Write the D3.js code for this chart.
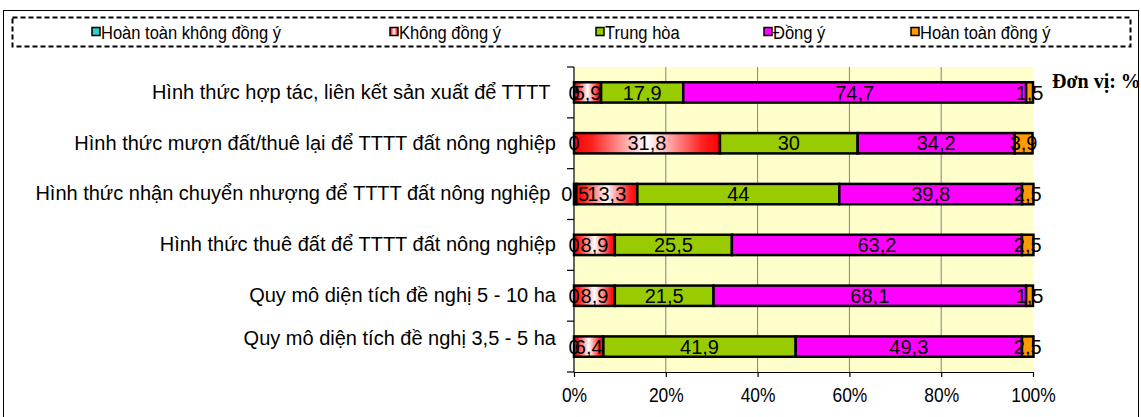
<!DOCTYPE html>
<html>
<head>
<meta charset="utf-8">
<script src="https://cdn.jsdelivr.net/npm/d3@7"></script>
<style>
  html, body { margin: 0; padding: 0; background: #ffffff; }
  svg { display: block; }
  text { font-family: Arial, "Liberation Sans", sans-serif; }
</style>
</head>
<body>
<svg id="chart" width="1141" height="417"></svg>
<script>
// ---------------- data ----------------
const categories = [
  "Hình thức hợp tác, liên kết sản xuất để TTTT\u00A0",
  "Hình thức mượn đất/thuê lại để TTTT đất nông nghiệp",
  "Hình thức nhận chuyển nhượng để TTTT đất nông nghiệp\u00A0",
  "Hình thức thuê đất để TTTT đất nông nghiệp",
  "Quy mô diện tích đề nghị 5 - 10 ha",
  "Quy mô diện tích đề nghị 3,5 - 5 ha"
];
const seriesNames = ["Hoàn toàn không đồng ý", "Không đồng ý", "Trung hòa", "Đồng ý", "Hoàn toàn đồng ý"];
const hoanToanKhongDongY = [0, 0, 0.5, 0, 0, 0];
const khongDongY        = [5.9, 31.8, 13.3, 8.9, 8.9, 6.4];
const trungHoa          = [17.9, 30, 44, 25.5, 21.5, 41.9];
const dongY             = [74.7, 34.2, 39.8, 63.2, 68.1, 49.3];
const hoanToanDongY     = [1.5, 3.9, 2.5, 2.5, 1.5, 2.5];
const xTickValues = [0, 20, 40, 60, 80, 100];
const unitLabel = "Đơn vị: %";

// ---------------- styles / layout ----------------
const seriesFills = ["#33CCCC", "url(#gradRed)", "#99CC00", "#FF00FF", "#FF9900"];
const legendX = [92, 390, 596, 764, 911];
const plot = { left: 574, right: 1033, top: 67, bottom: 372 };
const squeeze = 0.87;

const allSeries = [hoanToanKhongDongY, khongDongY, trungHoa, dongY, hoanToanDongY];

const svg = d3.select("#chart");
const defs = svg.append("defs");
const grad = defs.append("linearGradient").attr("id", "gradRed")
  .attr("x1", "0").attr("y1", "0").attr("x2", "1").attr("y2", "0");
grad.append("stop").attr("offset", "0").attr("stop-color", "#FF0000");
grad.append("stop").attr("offset", "0.12").attr("stop-color", "#FF2020");
grad.append("stop").attr("offset", "0.5").attr("stop-color", "#FFFFFF");
grad.append("stop").attr("offset", "0.88").attr("stop-color", "#FF2020");
grad.append("stop").attr("offset", "1").attr("stop-color", "#FF0000");

// outer frame
svg.append("rect").attr("x", 3.5).attr("y", 10.5).attr("width", 1135).attr("height", 420)
  .attr("fill", "none").attr("stroke", "#000").attr("stroke-width", 1);

// scales
const x = d3.scaleLinear().domain([0, 100]).range([plot.left, plot.right]);
const y = d3.scaleBand().domain(categories).range([plot.top, plot.bottom]).padding(0);
const barH = y.bandwidth() * 0.4;

// plot background
svg.append("rect").attr("x", plot.left).attr("y", plot.top)
  .attr("width", plot.right - plot.left).attr("height", plot.bottom - plot.top)
  .attr("fill", "#FFFFCC");

// gridlines
svg.append("g").selectAll("line").data(xTickValues.filter(d => d > 0 && d < 100)).join("line")
  .attr("x1", d => x(d)).attr("x2", d => x(d))
  .attr("y1", plot.top).attr("y2", plot.bottom)
  .attr("stroke", "#808080").attr("stroke-width", 1);

// stacked data
const rows = categories.map((c, i) => {
  let acc = 0;
  return allSeries.map((s, k) => {
    const v = s[i];
    const seg = { cat: c, k, v, x0: acc, x1: acc + v };
    acc += v;
    return seg;
  });
});

const barsG = svg.append("g");
rows.forEach(r => {
  barsG.selectAll(null).data(r).join("rect")
    .attr("x", d => x(d.x0))
    .attr("y", d => y(d.cat) + (y.bandwidth() - barH) / 2)
    .attr("width", d => Math.max(0, x(d.x1) - x(d.x0)))
    .attr("height", barH)
    .attr("fill", d => seriesFills[d.k])
    .attr("stroke", "#000")
    .attr("stroke-width", d => d.v > 0 ? 2.5 : 0);
});

// y axis (labels)
const yAxis = d3.axisLeft(y).tickSize(0).tickPadding(18);
const gy = svg.append("g").attr("transform", `translate(${plot.left},0)`).call(yAxis);
gy.select(".domain").remove();
gy.selectAll("text").style("font-size", "20px").attr("fill", "#000")
  .attr("dy", (d, i) => i === categories.length - 1 ? "-0.1em" : "0.32em")
  .style("white-space", "pre");

// y axis line + boundary ticks
const step = y.step();
svg.append("line").attr("x1", plot.left).attr("x2", plot.left)
  .attr("y1", plot.top).attr("y2", plot.bottom).attr("stroke", "#000").attr("stroke-width", 1.2);
svg.append("g").selectAll("line").data(d3.range(categories.length + 1)).join("line")
  .attr("x1", plot.left - 7).attr("x2", plot.left)
  .attr("y1", i => plot.top + i * step).attr("y2", i => plot.top + i * step)
  .attr("stroke", "#000").attr("stroke-width", 1.2);

// x axis
const xAxis = d3.axisBottom(x).tickValues(xTickValues).tickFormat(d => d + "%")
  .tickSize(5).tickSizeOuter(0).tickPadding(11);
const gx = svg.append("g").attr("transform", `translate(0,${plot.bottom})`).call(xAxis);
gx.select(".domain").attr("stroke", "#000").attr("stroke-width", 1.2);
gx.selectAll(".tick line").attr("stroke", "#000").attr("stroke-width", 1.2);
gx.selectAll("text").style("font-size", "20px").attr("fill", "#000")
  .attr("transform", `scale(${squeeze},1)`);

// value labels
const fmt = v => String(v).replace(".", ",");
const labG = svg.append("g");
rows.forEach(r => {
  labG.selectAll(null).data(r).join("text")
    .attr("x", d => x((d.x0 + d.x1) / 2))
    .attr("y", d => y(d.cat) + y.bandwidth() / 2)
    .attr("dy", "0.36em")
    .attr("text-anchor", "middle")
    .style("font-size", "20px")
    .attr("fill", "#000")
    .text(d => fmt(d.v));
});

// unit label
svg.append("text").attr("x", 1052).attr("y", 88)
  .style("font-family", "'Times New Roman', 'Liberation Serif', serif")
  .style("font-weight", "bold").style("font-size", "20px")
  .text(unitLabel);

// legend
const lg = svg.append("g");
lg.append("rect").attr("x", 12.5).attr("y", 17.5).attr("width", 1118).attr("height", 29)
  .attr("fill", "none").attr("stroke", "#000").attr("stroke-width", 2)
  .attr("stroke-dasharray", "5,3");
const items = lg.selectAll("g.item").data(seriesNames).join("g")
  .attr("class", "item")
  .attr("transform", (d, i) => `translate(${legendX[i]},32)`);
items.append("rect").attr("x", 0).attr("y", -4.5).attr("width", 8).attr("height", 8)
  .attr("fill", (d, i) => seriesFills[i]).attr("stroke", "#000").attr("stroke-width", 1.5);
items.append("text").attr("transform", `translate(9,0) scale(${squeeze},1)`).attr("dy", "0.35em")
  .style("font-size", "19px").text(d => d);
</script>
</body>
</html>
